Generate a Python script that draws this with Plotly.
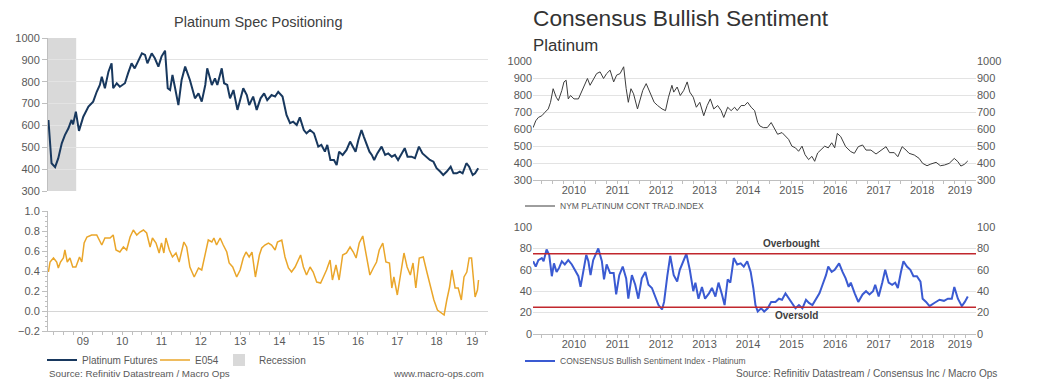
import plotly.graph_objects as go

# ---------------- DATA ----------------
spec_dates = ["2008-08-15","2008-08-30","2008-09-13","2008-10-16","2008-11-14","2008-12-17","2009-01-15","2009-02-17","2009-03-18","2009-04-01","2009-04-27","2009-05-26","2009-07-05","2009-08-22","2009-10-05","2009-11-07","2009-12-06","2009-12-24","2010-01-22","2010-02-24","2010-03-25","2010-04-09","2010-05-12","2010-06-10","2010-07-27","2010-08-25","2010-09-27","2010-10-26","2010-11-28","2011-01-01","2011-01-30","2011-02-21","2011-04-02","2011-05-01","2011-06-03","2011-07-02","2011-08-04","2011-08-29","2011-09-20","2011-10-12","2011-11-03","2011-12-06","2012-01-05","2012-02-07","2012-03-22","2012-05-08","2012-06-10","2012-07-10","2012-08-12","2012-08-30","2012-09-13","2012-10-12","2012-11-10","2012-12-02","2013-01-12","2013-02-03","2013-03-04","2013-03-30","2013-05-01","2013-06-07","2013-07-02","2013-07-31","2013-09-02","2013-09-24","2013-10-31","2013-12-03","2014-01-08","2014-02-10","2014-03-11","2014-04-20","2014-05-23","2014-06-21","2014-07-31","2014-09-06","2014-10-09","2014-11-07","2014-12-10","2015-01-08","2015-02-14","2015-03-11","2015-04-13","2015-05-19","2015-06-28","2015-07-27","2015-08-29","2015-09-20","2015-10-19","2015-11-21","2015-12-16","2016-01-08","2016-02-10","2016-03-17","2016-04-19","2016-05-18","2016-06-09","2016-07-05","2016-08-03","2016-08-25","2016-09-20","2016-10-16","2016-11-07","2016-11-29","2016-12-28","2017-02-06","2017-03-11","2017-04-09","2017-05-12","2017-06-10","2017-07-09","2017-08-11","2017-09-09","2017-10-05","2017-11-10","2017-12-13","2018-01-19","2018-02-21","2018-03-25","2018-05-01","2018-06-03","2018-07-02","2018-08-04","2018-09-02","2018-10-05","2018-11-10","2018-12-06","2019-01-05","2019-02-03","2019-03-01","2019-04-05","2019-05-01","2019-06-03","2019-06-25","2019-07-24"]
spec_vals = [625,533,427,409,449,518,556,587,625,605,663,575,640,686,709,754,785,823,770,846,884,770,793,777,793,838,884,861,892,930,923,884,930,907,869,915,942,770,762,831,777,693,808,869,808,724,747,709,785,861,838,785,815,785,861,793,785,724,762,671,716,770,739,693,732,671,724,747,716,739,732,754,732,648,610,617,602,637,579,564,579,564,503,511,480,511,442,442,419,480,465,488,526,496,480,533,579,548,511,480,465,442,472,503,465,472,457,465,442,472,496,457,457,450,503,472,457,442,434,404,389,373,389,411,381,381,389,381,427,411,373,381,404]

e054_dates = ["2008-08-15","2008-08-30","2008-10-01","2008-10-31","2008-11-15","2008-12-05","2009-01-01","2009-01-15","2009-02-06","2009-03-03","2009-03-29","2009-04-27","2009-05-31","2009-06-21","2009-07-13","2009-08-08","2009-09-21","2009-11-07","2009-12-24","2010-01-22","2010-03-11","2010-04-09","2010-05-05","2010-06-10","2010-07-13","2010-08-12","2010-09-13","2010-10-13","2010-11-14","2010-12-14","2011-01-15","2011-02-14","2011-03-18","2011-04-09","2011-05-12","2011-06-10","2011-07-02","2011-07-24","2011-08-12","2011-09-13","2011-10-12","2011-11-14","2011-12-13","2012-01-26","2012-02-21","2012-03-22","2012-05-01","2012-06-10","2012-07-10","2012-08-12","2012-09-09","2012-10-12","2012-10-31","2012-11-25","2012-12-28","2013-01-26","2013-02-28","2013-03-22","2013-04-24","2013-05-31","2013-07-02","2013-07-31","2013-08-26","2013-09-24","2013-10-20","2013-11-21","2013-12-28","2014-01-19","2014-02-17","2014-03-22","2014-04-20","2014-05-23","2014-06-14","2014-07-24","2014-08-23","2014-09-24","2014-10-23","2014-11-25","2014-12-24","2015-01-15","2015-02-10","2015-03-11","2015-04-13","2015-05-12","2015-06-14","2015-07-20","2015-08-15","2015-09-13","2015-10-16","2015-11-07","2015-12-10","2016-01-08","2016-02-10","2016-03-17","2016-04-19","2016-05-19","2016-06-14","2016-07-13","2016-08-15","2016-09-13","2016-10-20","2016-11-21","2016-12-21","2017-01-15","2017-02-17","2017-03-18","2017-04-20","2017-05-12","2017-05-31","2017-07-02","2017-08-04","2017-09-02","2017-10-01","2017-10-31","2017-11-25","2017-12-21","2018-01-22","2018-02-28","2018-04-05","2018-05-08","2018-06-07","2018-07-10","2018-08-08","2018-09-10","2018-10-05","2018-10-31","2018-11-22","2018-12-21","2019-01-19","2019-02-17","2019-03-14","2019-04-09","2019-05-01","2019-05-23","2019-06-25","2019-07-17","2019-07-27"]
e054_vals = [0.39,0.49,0.53,0.49,0.43,0.49,0.53,0.61,0.49,0.53,0.44,0.44,0.54,0.49,0.68,0.74,0.76,0.76,0.66,0.73,0.73,0.76,0.61,0.59,0.64,0.61,0.74,0.81,0.76,0.79,0.81,0.78,0.64,0.73,0.68,0.58,0.68,0.58,0.73,0.61,0.54,0.58,0.49,0.69,0.64,0.44,0.34,0.43,0.41,0.58,0.71,0.69,0.73,0.66,0.73,0.66,0.59,0.48,0.44,0.34,0.41,0.53,0.59,0.54,0.59,0.34,0.56,0.63,0.66,0.68,0.66,0.61,0.69,0.71,0.54,0.43,0.39,0.44,0.51,0.56,0.44,0.36,0.44,0.39,0.29,0.28,0.34,0.41,0.51,0.31,0.46,0.31,0.56,0.58,0.64,0.59,0.53,0.68,0.75,0.58,0.36,0.43,0.49,0.61,0.68,0.49,0.48,0.23,0.34,0.16,0.38,0.58,0.44,0.36,0.48,0.23,0.53,0.54,0.38,0.24,0.11,0.01,-0.01,-0.04,0.11,0.24,0.41,0.23,0.23,0.11,0.34,0.39,0.53,0.53,0.14,0.21,0.31]

nym_dates = ["2009-07-24","2009-08-15","2009-09-06","2009-10-05","2009-10-31","2009-11-28","2009-12-17","2010-01-08","2010-02-03","2010-02-21","2010-03-22","2010-04-09","2010-04-27","2010-05-15","2010-06-03","2010-07-02","2010-08-08","2010-09-06","2010-10-01","2010-10-23","2010-11-14","2010-12-10","2011-01-08","2011-02-06","2011-03-07","2011-04-02","2011-05-01","2011-05-31","2011-06-25","2011-07-24","2011-08-23","2011-09-13","2011-10-01","2011-10-23","2011-11-14","2011-12-17","2012-01-08","2012-01-30","2012-02-28","2012-04-01","2012-05-05","2012-06-03","2012-07-10","2012-08-08","2012-09-02","2012-10-01","2012-10-16","2012-11-14","2012-12-10","2013-01-08","2013-02-06","2013-02-28","2013-03-29","2013-04-24","2013-05-23","2013-06-25","2013-07-24","2013-08-19","2013-09-17","2013-10-20","2013-11-18","2013-12-10","2014-01-12","2014-02-10","2014-03-11","2014-04-02","2014-05-05","2014-06-03","2014-06-28","2014-07-28","2014-08-26","2014-09-21","2014-10-09","2014-11-07","2014-12-10","2015-01-12","2015-02-10","2015-03-07","2015-04-13","2015-05-12","2015-06-07","2015-07-05","2015-08-04","2015-08-30","2015-09-28","2015-10-23","2015-11-22","2015-12-20","2016-01-12","2016-02-06","2016-03-07","2016-04-05","2016-05-05","2016-06-03","2016-06-28","2016-07-20","2016-08-18","2016-09-28","2016-11-10","2016-12-10","2017-01-12","2017-02-17","2017-03-18","2017-04-28","2017-06-10","2017-07-24","2017-09-02","2017-10-01","2017-11-10","2017-12-10","2018-01-15","2018-02-17","2018-03-14","2018-04-27","2018-06-07","2018-07-06","2018-08-12","2018-09-13","2018-10-27","2018-12-02","2019-01-05","2019-02-14","2019-03-29","2019-04-28","2019-05-23","2019-06-21","2019-07-20"]
nym_vals = [608,648,668,678,698,718,757,837,787,767,827,877,887,777,797,777,777,827,867,897,857,887,926,936,897,926,946,877,917,926,966,837,757,837,807,718,767,827,867,817,757,738,718,708,787,857,817,847,797,827,877,817,787,728,757,678,738,777,718,738,708,668,728,708,728,708,738,738,757,728,708,638,618,608,608,638,598,569,579,559,539,499,489,469,499,449,420,439,410,459,479,499,489,519,489,574,555,496,467,457,496,506,476,476,453,476,496,461,461,437,496,476,457,447,427,398,384,394,404,384,388,398,427,408,382,392,412]

cons_dates = ["2009-07-24","2009-08-15","2009-09-06","2009-10-05","2009-10-20","2009-11-14","2009-12-06","2009-12-28","2010-01-15","2010-02-06","2010-02-28","2010-03-22","2010-04-16","2010-05-15","2010-06-14","2010-07-10","2010-08-08","2010-08-26","2010-09-17","2010-10-13","2010-10-31","2010-11-18","2010-12-10","2011-01-05","2011-01-22","2011-02-21","2011-03-11","2011-04-02","2011-05-01","2011-05-31","2011-06-21","2011-07-17","2011-08-15","2011-09-13","2011-10-01","2011-10-31","2011-11-28","2011-12-24","2012-01-22","2012-02-21","2012-03-18","2012-04-16","2012-05-15","2012-06-10","2012-07-10","2012-07-27","2012-08-23","2012-09-17","2012-10-16","2012-11-14","2012-12-06","2013-01-01","2013-01-30","2013-02-28","2013-03-29","2013-04-16","2013-05-12","2013-06-10","2013-07-06","2013-08-08","2013-09-02","2013-10-01","2013-10-27","2013-11-25","2013-12-17","2014-01-12","2014-02-03","2014-03-04","2014-04-02","2014-05-01","2014-05-27","2014-06-25","2014-07-24","2014-08-15","2014-09-02","2014-09-21","2014-10-20","2014-11-14","2014-12-14","2015-01-12","2015-02-17","2015-03-18","2015-04-13","2015-05-12","2015-06-10","2015-07-05","2015-08-04","2015-09-02","2015-10-01","2015-10-31","2015-11-25","2015-12-24","2016-01-22","2016-02-21","2016-03-18","2016-04-16","2016-05-05","2016-06-03","2016-06-28","2016-08-04","2016-09-02","2016-09-28","2016-10-23","2016-11-10","2016-12-13","2017-01-12","2017-02-17","2017-03-18","2017-04-16","2017-05-16","2017-06-03","2017-07-02","2017-08-01","2017-08-26","2017-09-24","2017-10-23","2017-11-18","2017-12-10","2018-01-05","2018-01-26","2018-02-24","2018-03-25","2018-04-20","2018-05-19","2018-06-18","2018-07-06","2018-08-04","2018-09-02","2018-10-12","2018-11-25","2019-01-01","2019-02-03","2019-03-08","2019-03-29","2019-04-28","2019-05-31","2019-06-25","2019-07-20"]
cons_vals = [68,63,69,71,68,79,74,54,66,58,62,68,65,69,65,60,54,44,58,74,68,55,69,76,80,68,51,65,57,57,37,55,63,52,33,55,46,33,52,58,46,43,35,27,23,30,54,73,55,49,60,68,75,60,40,48,33,44,33,38,43,35,48,37,27,51,48,71,65,66,63,68,58,43,27,21,24,21,24,30,30,33,32,38,33,29,24,27,24,32,29,27,32,38,46,55,63,58,60,66,58,52,44,48,38,30,37,40,37,40,46,35,48,60,48,46,48,43,58,68,63,60,54,54,49,33,30,26,29,32,31,33,33,44,33,26,30,35]

recession_start = "2007-12-01"
recession_end = "2009-04-30"
overbought_level = 75
oversold_level = 25

# labels sit in the middle of each (visible) year
left_tick_vals = ["2009-07-02","2010-07-02","2011-07-02","2012-07-02","2013-07-02","2014-07-02","2015-07-02","2016-07-02","2017-07-02","2018-07-02","2019-05-30"]
left_tick_text = ["09","10","11","12","13","14","15","16","17","18","19"]
right_tick_vals = ["2010-07-02","2011-07-02","2012-07-02","2013-07-02","2014-07-02","2015-07-02","2016-07-02","2017-07-02","2018-07-02","2019-05-15"]
right_tick_text = ["2010","2011","2012","2013","2014","2015","2016","2017","2018","2019"]

left_range = ["2008-08-11", "2019-10-23"]
right_range = ["2009-07-23", "2019-09-27"]

# ---------------- STYLE / LAYOUT ----------------
W, H = 1037, 389
FONT = "Liberation Sans, Arial, sans-serif"
TICK = "#595959"
AXLINE = "#BFBFBF"
GRID = "#E3E3E3"
NAVY = "#18385E"
ORANGE = "#EAA62A"
BLUE = "#3A5AD2"
RED = "#C1272D"
REC = "#D9D9D9"


def fx(p):
    return p / W


def fy(p):
    return 1 - p / H


fig = go.Figure()
fig.add_trace(go.Scatter(x=spec_dates, y=spec_vals, name="Platinum Futures", mode="lines",
                         line=dict(color=NAVY, width=2), xaxis="x", yaxis="y", legend="legend"))
fig.add_trace(go.Scatter(x=e054_dates, y=e054_vals, name="E054", mode="lines",
                         line=dict(color=ORANGE, width=1.5), xaxis="x2", yaxis="y2", legend="legend4"))
fig.add_trace(go.Scatter(x=nym_dates, y=nym_vals, name="NYM PLATINUM CONT TRAD.INDEX", mode="lines",
                         line=dict(color="#3C3C3C", width=1), xaxis="x3", yaxis="y3", legend="legend2"))
fig.add_trace(go.Scatter(x=cons_dates, y=cons_vals, name="CONSENSUS Bullish Sentiment Index - Platinum",
                         mode="lines", line=dict(color=BLUE, width=2), xaxis="x4", yaxis="y4", legend="legend3"))
# transparent companions so the right-hand value axes are drawn
fig.add_trace(go.Scatter(x=nym_dates, y=nym_vals, mode="lines", showlegend=False,
                         line=dict(color="rgba(0,0,0,0)", width=1), hoverinfo="skip",
                         xaxis="x3", yaxis="y5"))
fig.add_trace(go.Scatter(x=cons_dates, y=cons_vals, mode="lines", showlegend=False,
                         line=dict(color="rgba(0,0,0,0)", width=1), hoverinfo="skip",
                         xaxis="x4", yaxis="y6"))

fig.add_shape(type="rect", xref="x", yref="y domain", x0=recession_start, x1=recession_end, y0=0, y1=1,
              fillcolor=REC, line=dict(width=0), layer="below", showlegend=True, name="Recession",
              legend="legend5")
for lvl in (overbought_level, oversold_level):
    fig.add_shape(type="line", xref="x4 domain", yref="y4", x0=0, x1=1, y0=lvl, y1=lvl,
                  line=dict(color=RED, width=1.5))


def tf():
    return dict(family=FONT, size=11, color=TICK)


ldom = [fx(48), fx(488)]
rdom = [fx(533), fx(976)]
rtop = [fy(180), fy(61)]
rbot = [fy(334), fy(227)]


def xax(**kw):
    base = dict(type="date", showgrid=False, zeroline=False, tickfont=tf(), color=TICK,
                minor=dict(dtick="M3", tick0="2000-01-01", ticks="outside", ticklen=3,
                           tickcolor=AXLINE))
    base.update(kw)
    return base


def yax(**kw):
    base = dict(zeroline=False, tickfont=tf(), color=TICK, showline=False, ticks="", showgrid=False)
    base.update(kw)
    return base


def leg(x, y, size):
    return dict(orientation="h", x=fx(x), y=fy(y), xanchor="left", yanchor="middle",
                font=dict(family=FONT, size=size, color=TICK), bgcolor="rgba(0,0,0,0)")


fig.update_layout(
    template="none",
    colorway=[TICK],
    width=W, height=H, autosize=False,
    margin=dict(l=0, r=0, t=0, b=0),
    paper_bgcolor="white", plot_bgcolor="rgba(0,0,0,0)",
    font=dict(family=FONT, color=TICK),
    hovermode=False,
    xaxis=xax(domain=ldom, anchor="y", range=left_range, showticklabels=False, ticks="",
              showline=False, minor=dict(ticks="")),
    yaxis=yax(domain=[fy(191), fy(38)], anchor="x", range=[300, 1000], dtick=100,
              showgrid=True, gridcolor=GRID, showline=True, linecolor=AXLINE,
              ticks="outside", ticklen=5, tickcolor=AXLINE),
    xaxis2=xax(domain=ldom, anchor="y2", range=left_range, tickmode="array",
               tickvals=left_tick_vals, ticktext=left_tick_text, ticks="",
               showline=True, linecolor=AXLINE),
    yaxis2=yax(domain=[fy(331), fy(211)], anchor="x2", range=[-0.2, 1.0], dtick=0.2,
               tickformat=".1f", zeroline=True, zerolinecolor="#D6D6D6",
               zerolinewidth=1, showline=True, linecolor=AXLINE, ticks="outside", ticklen=5,
               tickcolor=AXLINE,
               minor=dict(dtick=0.05, ticks="outside", ticklen=2, tickcolor=AXLINE)),
    xaxis3=xax(domain=rdom, anchor="y3", range=right_range, tickmode="array",
               tickvals=right_tick_vals, ticktext=right_tick_text, ticks="",
               showline=True, linecolor=AXLINE),
    yaxis3=yax(domain=rtop, anchor="x3", range=[300, 1000], dtick=100,
               showgrid=True, gridcolor=GRID),
    yaxis5=yax(domain=rtop, anchor="free", position=rdom[1], side="right",
               range=[300, 1000], dtick=100),
    xaxis4=xax(domain=rdom, anchor="y4", range=right_range, tickmode="array",
               tickvals=right_tick_vals, ticktext=right_tick_text, ticks="",
               showline=True, linecolor=AXLINE),
    yaxis4=yax(domain=rbot, anchor="x4", range=[0, 100], dtick=20,
               showgrid=True, gridcolor=GRID),
    yaxis6=yax(domain=rbot, anchor="free", position=rdom[1], side="right",
               range=[0, 100], dtick=20),
    legend=leg(42, 360, 10),
    legend4=leg(155, 360, 10),
    legend5=leg(219, 360, 10),
    legend2=leg(520, 206, 8.5),
    legend3=leg(520, 361, 8.5),
    showlegend=True,
)

ann = [
    dict(text="Platinum Spec Positioning", x=fx(258), y=fy(22), xanchor="center", yanchor="middle",
         font=dict(size=14.5, color="#404040")),
    dict(text="Consensus Bullish Sentiment", x=fx(531), y=fy(18), xanchor="left", yanchor="middle",
         font=dict(size=22.7, color="#333333")),
    dict(text="Platinum", x=fx(531), y=fy(45), xanchor="left", yanchor="middle",
         font=dict(size=16.8, color="#333333")),
    dict(text="Source: Refinitiv Datastream / Macro Ops", x=fx(47), y=fy(373), xanchor="left",
         yanchor="middle", font=dict(size=9.8, color=TICK)),
    dict(text="www.macro-ops.com", x=fx(486), y=fy(373), xanchor="right", yanchor="middle",
         font=dict(size=9.7, color=TICK)),
    dict(text="Source: Refinitiv Datastream / Consensus Inc / Macro Ops", x=fx(999), y=fy(373),
         xanchor="right", yanchor="middle", font=dict(size=10.1, color=TICK)),
]
for a in ann:
    a.update(xref="paper", yref="paper", showarrow=False)
    a["font"]["family"] = FONT
fig.update_layout(annotations=ann)
fig.add_annotation(text="<b>Overbought</b>", xref="x4", yref="y4", x="2015-07-01", y=overbought_level,
                   yanchor="bottom", yshift=3, showarrow=False,
                   font=dict(family=FONT, size=10, color="#404040"))
fig.add_annotation(text="<b>Oversold</b>", xref="x4", yref="y4", x="2015-08-15", y=oversold_level,
                   yanchor="top", yshift=-1, showarrow=False,
                   font=dict(family=FONT, size=10, color="#404040"))

fig.write_html("out.html", config={"displayModeBar": False},
               post_script="document.body.style.margin='0';")
